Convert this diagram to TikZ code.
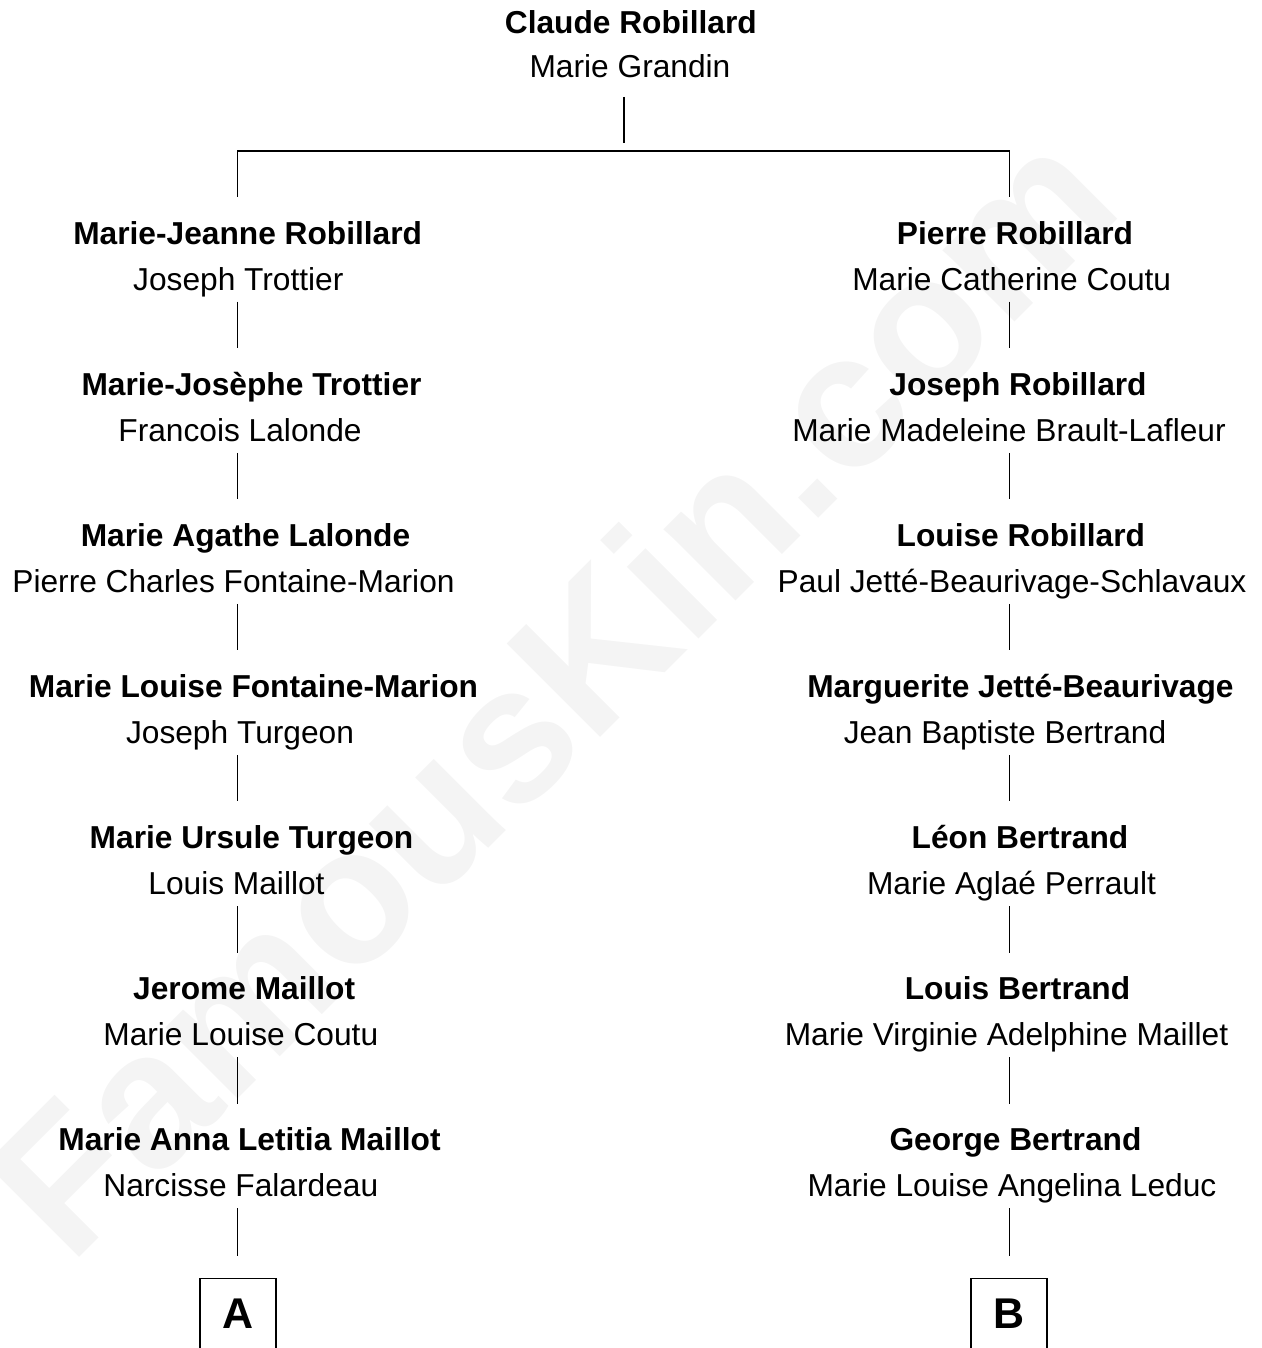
\documentclass[tikz,border=0pt]{standalone}
\usepackage{fontspec}
\setmainfont{Liberation Sans}
\definecolor{wmc}{HTML}{F4F4F4}
\begin{document}
\begin{tikzpicture}[x=1pt,y=-1pt,
  nm/.style={font=\fontsize{31.7}{38}\selectfont\bfseries, anchor=base, inner sep=0pt, outer sep=0pt},
  sp/.style={font=\fontsize{31.7}{38}\selectfont, anchor=base, inner sep=0pt, outer sep=0pt},
  ln/.style={line width=1.3pt, black},
  endbox/.style={draw, line width=1.3pt, anchor=north, font=\fontsize{43}{50}\selectfont\bfseries, inner sep=0pt, minimum width=76pt, text height=50pt, text depth=80pt},
  wm/.style={font=\fontsize{192}{230}\selectfont\bfseries, text=wmc, rotate=45, inner sep=0pt}]
\useasboundingbox (0,0) rectangle (1261,1348);
\node[wm] (wmark) at (550,690) {FamousKin.com};
\coordinate (colL) at (237.7,0);
\coordinate (colR) at (1009.3,0);
\coordinate (colT) at (624,0);
\coordinate (bar) at (624,151);
% top couple
\node[nm] (top1) at (630.8,33.5) {Claude Robillard};
\node[sp] (top2) at (630,78) {Marie Grandin};
% left column
\node[nm] (L1) at (247.7,244) {Marie-Jeanne Robillard};
\node[sp] (LS1) at (238.3,290) {Joseph Trottier};
\node[nm] (L2) at (251.5,395.1) {Marie-Josèphe Trottier};
\node[sp] (LS2) at (240,441.1) {Francois Lalonde};
\node[nm] (L3) at (245.5,546.2) {Marie Agathe Lalonde};
\node[sp] (LS3) at (233.5,592.2) {Pierre Charles Fontaine-Marion};
\node[nm] (L4) at (253.5,697.3) {Marie Louise Fontaine-Marion};
\node[sp] (LS4) at (240,743.3) {Joseph Turgeon};
\node[nm] (L5) at (251.5,848.4) {Marie Ursule Turgeon};
\node[sp] (LS5) at (236.5,894.4) {Louis Maillot};
\node[nm] (L6) at (244.2,999.5) {Jerome Maillot};
\node[sp] (LS6) at (240.8,1045.5) {Marie Louise Coutu};
\node[nm] (L7) at (249.5,1150.6) {Marie Anna Letitia Maillot};
\node[sp] (LS7) at (240.8,1196.6) {Narcisse Falardeau};
% right column
\node[nm] (R1) at (1015,244) {Pierre Robillard};
\node[sp] (RS1) at (1011.7,290) {Marie Catherine Coutu};
\node[nm] (R2) at (1018,395.1) {Joseph Robillard};
\node[sp] (RS2) at (1009,441.1) {Marie Madeleine Brault-Lafleur};
\node[nm] (R3) at (1020.8,546.2) {Louise Robillard};
\node[sp] (RS3) at (1012,592.2) {Paul Jetté-Beaurivage-Schlavaux};
\node[nm] (R4) at (1020.5,697.3) {Marguerite Jetté-Beaurivage};
\node[sp] (RS4) at (1005,743.3) {Jean Baptiste Bertrand};
\node[nm] (R5) at (1020,848.4) {Léon Bertrand};
\node[sp] (RS5) at (1011.5,894.4) {Marie Aglaé Perrault};
\node[nm] (R6) at (1017.5,999.5) {Louis Bertrand};
\node[sp] (RS6) at (1006.5,1045.5) {Marie Virginie Adelphine Maillet};
\node[nm] (R7) at (1015.5,1150.6) {George Bertrand};
\node[sp] (RS7) at (1012,1196.6) {Marie Louise Angelina Leduc};
% boxes
\node[endbox] (bA) at (238,1278) {A};
\node[endbox] (bB) at (1009,1278) {B};
% connectors
\draw[ln] ([yshift=-19pt]top2.base -| colT) -- ([yshift=8pt]bar);
\draw[ln] ([yshift=47pt]L1.base -| colL) -- (colL |- bar) -- (colR |- bar) -- ([yshift=47pt]R1.base -| colR);
\foreach \a/\b in {LS1/L2,LS2/L3,LS3/L4,LS4/L5,LS5/L6,LS6/L7}
  \draw[ln] ([yshift=-11.7pt]\a.base -| colL) -- ([yshift=47pt]\b.base -| colL);
\foreach \a/\b in {RS1/R2,RS2/R3,RS3/R4,RS4/R5,RS5/R6,RS6/R7}
  \draw[ln] ([yshift=-11.7pt]\a.base -| colR) -- ([yshift=47pt]\b.base -| colR);
\draw[ln] ([yshift=-11.7pt]LS7.base -| colL) -- ([yshift=22pt]bA.north -| colL);
\draw[ln] ([yshift=-11.7pt]RS7.base -| colR) -- ([yshift=22pt]bB.north -| colR);
\end{tikzpicture}
\end{document}
